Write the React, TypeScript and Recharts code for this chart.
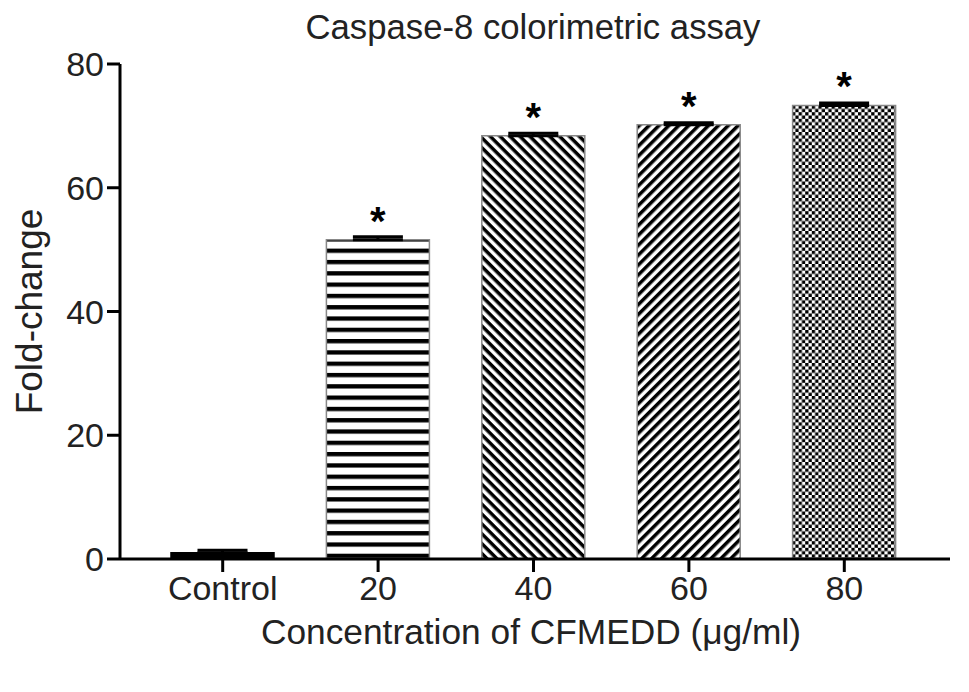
import React from 'react';
import { BarChart, Bar, XAxis, YAxis, Cell, ErrorBar, LabelList } from 'recharts';

const categories = ['Control', '20', '40', '60', '80'];
const foldChange = [1.0, 51.6, 68.4, 70.2, 73.3];
const errorUp = [0.4, 0.5, 0.4, 0.3, 0.4];
const stars = ['', '*', '*', '*', '*'];
const yTicks = [0, 20, 40, 60, 80];

const barFills = ['#000', 'url(#pH)', 'url(#pDown)', 'url(#pUp)', 'url(#pCheck)'];

const data = categories.map((c, i) => ({
  category: c,
  value: foldChange[i],
  err: [0, errorUp[i]],
  star: stars[i],
}));

const FONT = '"Liberation Sans", Arial, Helvetica, sans-serif';
const TXT = '#222';

const StarLabel = (props: any) => {
  const { x, y, width, value } = props;
  if (!value) return null;
  return (
    <text x={x + width / 2} y={y - 5} textAnchor="middle" fontFamily={FONT} fontWeight="bold" fontSize={40} fill="#000">
      {value}
    </text>
  );
};

const YLabel = (props: any) => {
  const vb = props.viewBox || {};
  const cx = 29;
  const cy = vb.y + vb.height / 2;
  return (
    <text x={cx} y={cy} transform={`rotate(-90 ${cx} ${cy})`} textAnchor="middle" dominantBaseline="central" fontFamily={FONT} fontSize={37} fill={TXT}>
      Fold-change
    </text>
  );
};

const XLabel = (props: any) => {
  const vb = props.viewBox || {};
  const cx = vb.x + vb.width / 2 - 4;
  return (
    <text x={cx} y={644} textAnchor="middle" fontFamily={FONT} fontSize={35.3} fill={TXT}>
      Concentration of CFMEDD (μg/ml)
    </text>
  );
};

export default function App() {
  return (
    <div style={{ position: 'absolute', left: 0, top: 0, width: 969, height: 692, background: '#fff' }}>
      <div style={{ position: 'absolute', left: 0, width: 1066, top: 7, textAlign: 'center', fontFamily: FONT, fontSize: 34.7, color: TXT, lineHeight: '40px' }}>
        Caspase-8 colorimetric assay
      </div>
      <BarChart width={969} height={692} data={data} margin={{ top: 64, right: 19, left: 0, bottom: 53 }} barSize={103}>
        <defs>
          <pattern id="pH" patternUnits="userSpaceOnUse" width={11} height={11.3}>
            <rect x={0} y={0} width={11} height={11.3} fill="#fff" />
            <rect x={0} y={0} width={11} height={4.3} fill="#000" />
          </pattern>
          <pattern id="pDown" patternUnits="userSpaceOnUse" width={7} height={7} patternTransform="rotate(45)">
            <rect x={0} y={0} width={7} height={7} fill="#fff" />
            <rect x={0} y={0} width={7} height={3.5} fill="#000" />
          </pattern>
          <pattern id="pUp" patternUnits="userSpaceOnUse" width={7} height={7} patternTransform="rotate(-45)">
            <rect x={0} y={0} width={7} height={7} fill="#fff" />
            <rect x={0} y={0} width={7} height={3.5} fill="#000" />
          </pattern>
          <pattern id="pCheck" patternUnits="userSpaceOnUse" width={6.6} height={6.6}>
            <rect x={0} y={0} width={6.6} height={6.6} fill="#fff" />
            <rect x={0} y={0} width={3.3} height={3.3} fill="#000" />
            <rect x={3.3} y={3.3} width={3.3} height={3.3} fill="#000" />
          </pattern>
        </defs>
        <XAxis
          dataKey="category"
          padding={{ left: 25, right: 28 }}
          tickSize={13}
          tickMargin={4}
          axisLine={{ stroke: '#000', strokeWidth: 3 }}
          tickLine={{ stroke: '#000', strokeWidth: 3 }}
          tick={{ fontFamily: FONT, fontSize: 34, fill: TXT }}
          height={80}
          interval={0}
          label={<XLabel />}
        />
        <YAxis
          domain={[0, 80]}
          ticks={yTicks}
          interval={0}
          width={120}
          tickSize={13}
          tickMargin={3}
          axisLine={{ stroke: '#000', strokeWidth: 3 }}
          tickLine={{ stroke: '#000', strokeWidth: 3 }}
          tick={{ fontFamily: FONT, fontSize: 34, fill: TXT }}
          label={<YLabel />}
        />
        <Bar dataKey="value" isAnimationActive={false} stroke="#888" strokeWidth={1.5}>
          {data.map((d, i) => (
            <Cell key={d.category} fill={barFills[i]} stroke={i === 0 ? '#000' : '#888'} />
          ))}
          <ErrorBar dataKey="err" width={25} strokeWidth={3} stroke="#000" direction="y" isAnimationActive={false} />
          <LabelList dataKey="star" content={<StarLabel />} />
        </Bar>
      </BarChart>
    </div>
  );
}
